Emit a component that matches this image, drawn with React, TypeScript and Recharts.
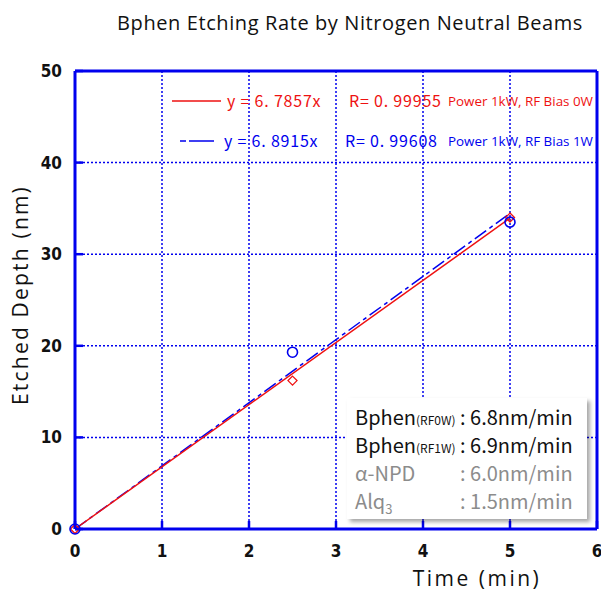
import React from 'react';
import {
  ComposedChart,
  Line,
  Scatter,
  XAxis,
  YAxis,
  CartesianGrid,
  ReferenceLine,
} from 'recharts';

const xTicks = [0, 1, 2, 3, 4, 5, 6];
const yTicks = [0, 10, 20, 30, 40, 50];

// measured points (min, nm)
const rf0wPoints = [
  { x: 0, y: 0 },
  { x: 2.5, y: 16.2 },
  { x: 5, y: 34.0 },
];
const rf1wPoints = [
  { x: 0, y: 0 },
  { x: 2.5, y: 19.3 },
  { x: 5, y: 33.5 },
];

// linear fits
const rf0wFit = [
  { x: 0, y: 0 },
  { x: 5, y: 33.93 },
];
const rf1wFit = [
  { x: 0, y: 0 },
  { x: 5, y: 34.46 },
];

const rateRows = [
  { name: 'Bphen', sub: '(RF0W)', rate: ': 6.8nm/min', color: '#111' },
  { name: 'Bphen', sub: '(RF1W)', rate: ': 6.9nm/min', color: '#111' },
  { name: 'α-NPD', sub: '', rate: ': 6.0nm/min', color: '#8c8c8c' },
  { name: 'Alq', sub: '3', rate: ': 1.5nm/min', color: '#8c8c8c' },
];

const BLUE = '#0000ee';
const RED = '#ee1111';
const tickFont = '"Liberation Sans Narrow", "DejaVu Sans Condensed", sans-serif';
const textFont = '"Open Sans", "Noto Sans", sans-serif';
const boxFont = '"Noto Sans CJK JP", "Noto Sans", sans-serif';

const XTick = (props: any) => {
  const { x, y, payload } = props;
  return (
    <g>
      <line x1={x} x2={x} y1={y} y2={y - 8} stroke={BLUE} strokeWidth={2.5} />
      <text x={x} y={y + 28} textAnchor="middle" fontFamily={tickFont} fontWeight="bold" fontSize={17} fill="#111">
        {payload.value}
      </text>
    </g>
  );
};

const YTick = (props: any) => {
  const { x, y, payload } = props;
  return (
    <g>
      <line x1={x} x2={x + 8} y1={y} y2={y} stroke={BLUE} strokeWidth={2.5} />
      <text x={x - 13} y={y + 6} textAnchor="end" fontFamily={tickFont} fontWeight="bold" fontSize={17} fill="#111">
        {payload.value}
      </text>
    </g>
  );
};

const Diamond = (props: any) => {
  const { cx, cy } = props;
  const r = 4.5;
  return (
    <polygon
      points={`${cx},${cy - r} ${cx + r},${cy} ${cx},${cy + r} ${cx - r},${cy}`}
      fill="none"
      stroke={RED}
      strokeWidth={1.3}
    />
  );
};

const Ring = (props: any) => {
  const { cx, cy } = props;
  return <circle cx={cx} cy={cy} r={5} fill="none" stroke={BLUE} strokeWidth={1.6} />;
};

export default function App() {
  return (
    <div style={{ position: 'absolute', left: 0, top: 0, width: 601, height: 593, background: '#fff' }}>
      <ComposedChart width={601} height={593} margin={{ top: 71, right: 4, bottom: 0, left: 0 }}>
        <CartesianGrid stroke={BLUE} strokeDasharray="2 2" strokeWidth={1.5} />
        <XAxis
          type="number"
          dataKey="x"
          domain={[0, 6]}
          ticks={xTicks}
          height={64}
          tickSize={0}
          tickMargin={0}
          tick={<XTick />}
          axisLine={{ stroke: BLUE, strokeWidth: 3 }}
          tickLine={false}
          allowDuplicatedCategory={false}
        />
        <YAxis
          type="number"
          dataKey="y"
          domain={[0, 50]}
          ticks={yTicks}
          width={75}
          tickSize={0}
          tickMargin={0}
          tick={<YTick />}
          axisLine={{ stroke: BLUE, strokeWidth: 3 }}
          tickLine={false}
        />
        <ReferenceLine y={50} stroke={BLUE} strokeWidth={3} />
        <ReferenceLine x={6} stroke={BLUE} strokeWidth={3} />
        <Line
          data={rf1wFit}
          dataKey="y"
          stroke={BLUE}
          strokeWidth={1.5}
          strokeDasharray="14 4 4 4"
          dot={false}
          isAnimationActive={false}
        />
        <Line
          data={rf0wFit}
          dataKey="y"
          stroke={RED}
          strokeWidth={1.5}
          dot={false}
          isAnimationActive={false}
        />
        <Scatter data={rf0wPoints} dataKey="y" shape={<Diamond />} isAnimationActive={false} />
        <Scatter data={rf1wPoints} dataKey="y" shape={<Ring />} isAnimationActive={false} />
      </ComposedChart>

      {/* title and axis labels */}
      <div
        style={{
          position: 'absolute',
          left: 350,
          top: 22,
          transform: 'translate(-50%, -50%)',
          whiteSpace: 'nowrap',
          fontFamily: textFont,
          fontSize: 20,
          letterSpacing: 0.6,
          color: '#111',
        }}
      >
        Bphen Etching Rate by Nitrogen Neutral Beams
      </div>
      <div
        style={{
          position: 'absolute',
          left: 20,
          top: 295,
          transform: 'translate(-50%, -50%) rotate(-90deg)',
          whiteSpace: 'nowrap',
          fontFamily: textFont,
          fontSize: 21,
          letterSpacing: 2.2,
          color: '#111',
        }}
      >
        Etched Depth (nm)
      </div>
      <div
        style={{
          position: 'absolute',
          left: 477,
          top: 578,
          transform: 'translate(-50%, -50%)',
          whiteSpace: 'nowrap',
          fontFamily: textFont,
          fontSize: 21,
          letterSpacing: 2.5,
          color: '#111',
        }}
      >
        Time (min)
      </div>

      {/* fit legend */}
      <svg style={{ position: 'absolute', left: 0, top: 0 }} width={601} height={593} pointerEvents="none">
        <line x1={172} x2={221} y1={101} y2={101} stroke={RED} strokeWidth={1.5} />
        <line x1={180} x2={214} y1={141} y2={141} stroke={BLUE} strokeWidth={1.5} strokeDasharray="6 3 20 0" />
        <g fontFamily={boxFont} fontSize={16} fill={RED} letterSpacing={0.8}>
          <text x={227} y={107}>y = 6. 7857x</text>
          <text x={349} y={107}>R= 0. 99955</text>
        </g>
        <text x={448} y={106} fontFamily={textFont} fontSize={13.4} fill={RED}>Power 1kW, RF Bias 0W</text>
        <g fontFamily={boxFont} fontSize={16} fill={BLUE} letterSpacing={0.8}>
          <text x={224} y={147}>y = 6. 8915x</text>
          <text x={345} y={147}>R= 0. 99608</text>
        </g>
        <text x={448} y={146} fontFamily={textFont} fontSize={13.4} fill={BLUE}>Power 1kW, RF Bias 1W</text>
      </svg>

      {/* rate box */}
      <div
        style={{
          position: 'absolute',
          left: 347,
          top: 398,
          width: 240,
          height: 121,
          background: '#fff',
          boxShadow: '3px 3px 4px rgba(0,0,0,0.35)',
          fontFamily: boxFont,
          paddingTop: 5,
          boxSizing: 'border-box',
        }}
      >
        {rateRows.map((r) => (
          <div key={r.name + r.sub} style={{ position: 'relative', height: 28, color: r.color, fontSize: 20, lineHeight: '28px' }}>
            <span style={{ position: 'absolute', left: 8 }}>
              {r.name}
              {r.sub && (
                <span style={{ fontSize: r.sub === '3' ? 13 : 12, verticalAlign: r.sub === '3' ? 'sub' : 'baseline' }}>{r.sub}</span>
              )}
            </span>
            <span style={{ position: 'absolute', left: 113 }}>{r.rate}</span>
          </div>
        ))}
      </div>
    </div>
  );
}
